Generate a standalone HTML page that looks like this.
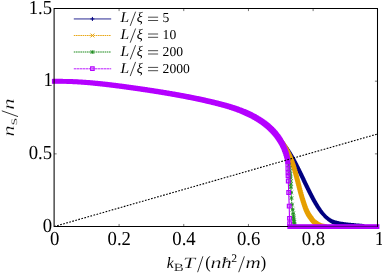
<!DOCTYPE html>
<html><head><meta charset="utf-8"><title>plot</title>
<style>
html,body{margin:0;padding:0;background:#fff;}
body{width:382px;height:273px;overflow:hidden;font-family:"Liberation Serif",serif;}
svg{display:block;will-change:transform;}
text{fill:#000;text-rendering:geometricPrecision;}
.mr{font-family:"Liberation Serif",serif;}
.mi{font-family:"Liberation Serif",serif;font-style:italic;}
</style></head><body>
<svg width="382" height="273" viewBox="0 0 382 273">
<rect width="382" height="273" fill="#fff"/>
<path d="M279.00,138.53 L279.46,139.05 L279.92,139.58 L280.37,140.12 L280.82,140.66 L281.26,141.20 L281.70,141.74 L282.14,142.29 L282.57,142.83 L283.01,143.39 L283.43,143.94 L283.86,144.50 L284.28,145.06 L284.70,145.62 L285.11,146.18 L285.52,146.75 L285.93,147.32 L286.33,147.89 L286.73,148.47 L287.12,149.05 L287.51,149.63 L287.90,150.21 L288.29,150.79 L288.67,151.38 L289.04,151.97 L289.42,152.57 L289.78,153.16 L290.15,153.76 L290.51,154.36 L290.87,154.96 L291.23,155.56 L291.58,156.16 L291.93,156.77 L292.28,157.38 L292.62,157.99 L292.96,158.60 L293.30,159.21 L293.63,159.83 L293.97,160.44 L294.30,161.06 L294.63,161.68 L294.96,162.30 L295.28,162.92 L295.60,163.54 L295.93,164.16 L296.25,164.78 L296.57,165.40 L296.88,166.03 L297.20,166.65 L297.52,167.28 L297.83,167.90 L298.14,168.53 L298.45,169.16 L298.76,169.78 L299.07,170.41 L299.38,171.04 L299.69,171.67 L299.99,172.30 L300.30,172.93 L300.61,173.56 L300.91,174.19 L301.21,174.82 L301.52,175.45 L301.82,176.08 L302.12,176.71 L302.43,177.34 L302.73,177.97 L303.03,178.60 L303.34,179.24 L303.64,179.87 L303.94,180.50 L304.24,181.13 L304.54,181.76 L304.85,182.39 L305.15,183.02 L305.45,183.65 L305.76,184.28 L306.06,184.91 L306.37,185.54 L306.67,186.17 L306.98,186.80 L307.29,187.43 L307.59,188.06 L307.90,188.69 L308.21,189.32 L308.52,189.95 L308.83,190.57 L309.14,191.20 L309.46,191.83 L309.77,192.45 L310.09,193.07 L310.41,193.70 L310.72,194.32 L311.04,194.94 L311.37,195.57 L311.69,196.19 L312.02,196.81 L312.35,197.42 L312.68,198.04 L313.01,198.66 L313.34,199.27 L313.68,199.88 L314.02,200.50 L314.36,201.11 L314.71,201.72 L315.06,202.32 L315.41,202.93 L315.76,203.53 L316.12,204.13 L316.48,204.73 L316.85,205.33 L317.21,205.93 L317.59,206.52 L317.96,207.11 L318.35,207.70 L318.73,208.28 L319.12,208.86 L319.52,209.44 L319.92,210.01 L320.32,210.58 L320.74,211.15 L321.16,211.71 L321.59,212.26 L322.02,212.81 L322.46,213.35 L322.91,213.89 L323.37,214.42 L323.84,214.94 L324.31,215.45 L324.80,215.96 L325.30,216.45 L325.80,216.94 L326.31,217.41 L326.84,217.87 L327.38,218.32 L327.92,218.76 L328.48,219.19 L329.04,219.60 L329.62,219.99 L330.21,220.37 L330.80,220.74 L331.40,221.10 L332.02,221.44 L332.65,221.74 L333.30,221.99 L333.96,222.22 L334.63,222.43 L335.30,222.63 L335.98,222.82 L336.66,222.99 L337.34,223.15 L338.02,223.31 L338.70,223.45 L339.39,223.59 L340.08,223.71 L340.77,223.84 L341.46,223.95 L342.15,224.06 L342.84,224.17 L343.54,224.26 L344.23,224.36 L344.92,224.45 L345.62,224.54 L346.31,224.62 L347.01,224.70 L347.70,224.78 L348.40,224.85 L349.10,224.92 L349.79,224.99 L350.49,225.06 L351.19,225.12 L351.88,225.19 L352.58,225.26 L353.28,225.32 L353.97,225.39 L354.67,225.46 L355.37,225.52 L356.07,225.58 L356.76,225.65 L357.46,225.71 L358.16,225.76 L358.86,225.82 L359.55,225.88 L360.25,225.93 L360.95,225.98 L361.65,226.03 L362.35,226.09 L363.04,226.13 L363.74,226.18" fill="none" stroke="#000080" stroke-width="1"/>
<path d="M276.80,138.53h4.4M279.00,136.33v4.4M277.26,139.05h4.4M279.46,136.85v4.4M277.72,139.58h4.4M279.92,137.38v4.4M278.17,140.12h4.4M280.37,137.92v4.4M278.62,140.66h4.4M280.82,138.46v4.4M279.06,141.20h4.4M281.26,139.00v4.4M279.50,141.74h4.4M281.70,139.54v4.4M279.94,142.29h4.4M282.14,140.09v4.4M280.37,142.83h4.4M282.57,140.63v4.4M280.81,143.39h4.4M283.01,141.19v4.4M281.23,143.94h4.4M283.43,141.74v4.4M281.66,144.50h4.4M283.86,142.30v4.4M282.08,145.06h4.4M284.28,142.86v4.4M282.50,145.62h4.4M284.70,143.42v4.4M282.91,146.18h4.4M285.11,143.98v4.4M283.32,146.75h4.4M285.52,144.55v4.4M283.73,147.32h4.4M285.93,145.12v4.4M284.13,147.89h4.4M286.33,145.69v4.4M284.53,148.47h4.4M286.73,146.27v4.4M284.92,149.05h4.4M287.12,146.85v4.4M285.31,149.63h4.4M287.51,147.43v4.4M285.70,150.21h4.4M287.90,148.01v4.4M286.09,150.79h4.4M288.29,148.59v4.4M286.47,151.38h4.4M288.67,149.18v4.4M286.84,151.97h4.4M289.04,149.77v4.4M287.22,152.57h4.4M289.42,150.37v4.4M287.58,153.16h4.4M289.78,150.96v4.4M287.95,153.76h4.4M290.15,151.56v4.4M288.31,154.36h4.4M290.51,152.16v4.4M288.67,154.96h4.4M290.87,152.76v4.4M289.03,155.56h4.4M291.23,153.36v4.4M289.38,156.16h4.4M291.58,153.96v4.4M289.73,156.77h4.4M291.93,154.57v4.4M290.08,157.38h4.4M292.28,155.18v4.4M290.42,157.99h4.4M292.62,155.79v4.4M290.76,158.60h4.4M292.96,156.40v4.4M291.10,159.21h4.4M293.30,157.01v4.4M291.43,159.83h4.4M293.63,157.63v4.4M291.77,160.44h4.4M293.97,158.24v4.4M292.10,161.06h4.4M294.30,158.86v4.4M292.43,161.68h4.4M294.63,159.48v4.4M292.76,162.30h4.4M294.96,160.10v4.4M293.08,162.92h4.4M295.28,160.72v4.4M293.40,163.54h4.4M295.60,161.34v4.4M293.73,164.16h4.4M295.93,161.96v4.4M294.05,164.78h4.4M296.25,162.58v4.4M294.37,165.40h4.4M296.57,163.20v4.4M294.68,166.03h4.4M296.88,163.83v4.4M295.00,166.65h4.4M297.20,164.45v4.4M295.32,167.28h4.4M297.52,165.08v4.4M295.63,167.90h4.4M297.83,165.70v4.4M295.94,168.53h4.4M298.14,166.33v4.4M296.25,169.16h4.4M298.45,166.96v4.4M296.56,169.78h4.4M298.76,167.58v4.4M296.87,170.41h4.4M299.07,168.21v4.4M297.18,171.04h4.4M299.38,168.84v4.4M297.49,171.67h4.4M299.69,169.47v4.4M297.79,172.30h4.4M299.99,170.10v4.4M298.10,172.93h4.4M300.30,170.73v4.4M298.41,173.56h4.4M300.61,171.36v4.4M298.71,174.19h4.4M300.91,171.99v4.4M299.01,174.82h4.4M301.21,172.62v4.4M299.32,175.45h4.4M301.52,173.25v4.4M299.62,176.08h4.4M301.82,173.88v4.4M299.92,176.71h4.4M302.12,174.51v4.4M300.23,177.34h4.4M302.43,175.14v4.4M300.53,177.97h4.4M302.73,175.77v4.4M300.83,178.60h4.4M303.03,176.40v4.4M301.14,179.24h4.4M303.34,177.04v4.4M301.44,179.87h4.4M303.64,177.67v4.4M301.74,180.50h4.4M303.94,178.30v4.4M302.04,181.13h4.4M304.24,178.93v4.4M302.34,181.76h4.4M304.54,179.56v4.4M302.65,182.39h4.4M304.85,180.19v4.4M302.95,183.02h4.4M305.15,180.82v4.4M303.25,183.65h4.4M305.45,181.45v4.4M303.56,184.28h4.4M305.76,182.08v4.4M303.86,184.91h4.4M306.06,182.71v4.4M304.17,185.54h4.4M306.37,183.34v4.4M304.47,186.17h4.4M306.67,183.97v4.4M304.78,186.80h4.4M306.98,184.60v4.4M305.09,187.43h4.4M307.29,185.23v4.4M305.39,188.06h4.4M307.59,185.86v4.4M305.70,188.69h4.4M307.90,186.49v4.4M306.01,189.32h4.4M308.21,187.12v4.4M306.32,189.95h4.4M308.52,187.75v4.4M306.63,190.57h4.4M308.83,188.37v4.4M306.94,191.20h4.4M309.14,189.00v4.4M307.26,191.83h4.4M309.46,189.63v4.4M307.57,192.45h4.4M309.77,190.25v4.4M307.89,193.07h4.4M310.09,190.87v4.4M308.21,193.70h4.4M310.41,191.50v4.4M308.52,194.32h4.4M310.72,192.12v4.4M308.84,194.94h4.4M311.04,192.74v4.4M309.17,195.57h4.4M311.37,193.37v4.4M309.49,196.19h4.4M311.69,193.99v4.4M309.82,196.81h4.4M312.02,194.61v4.4M310.15,197.42h4.4M312.35,195.22v4.4M310.48,198.04h4.4M312.68,195.84v4.4M310.81,198.66h4.4M313.01,196.46v4.4M311.14,199.27h4.4M313.34,197.07v4.4M311.48,199.88h4.4M313.68,197.68v4.4M311.82,200.50h4.4M314.02,198.30v4.4M312.16,201.11h4.4M314.36,198.91v4.4M312.51,201.72h4.4M314.71,199.52v4.4M312.86,202.32h4.4M315.06,200.12v4.4M313.21,202.93h4.4M315.41,200.73v4.4M313.56,203.53h4.4M315.76,201.33v4.4M313.92,204.13h4.4M316.12,201.93v4.4M314.28,204.73h4.4M316.48,202.53v4.4M314.65,205.33h4.4M316.85,203.13v4.4M315.01,205.93h4.4M317.21,203.73v4.4M315.39,206.52h4.4M317.59,204.32v4.4M315.76,207.11h4.4M317.96,204.91v4.4M316.15,207.70h4.4M318.35,205.50v4.4M316.53,208.28h4.4M318.73,206.08v4.4M316.92,208.86h4.4M319.12,206.66v4.4M317.32,209.44h4.4M319.52,207.24v4.4M317.72,210.01h4.4M319.92,207.81v4.4M318.12,210.58h4.4M320.32,208.38v4.4M318.54,211.15h4.4M320.74,208.95v4.4M318.96,211.71h4.4M321.16,209.51v4.4M319.39,212.26h4.4M321.59,210.06v4.4M319.82,212.81h4.4M322.02,210.61v4.4M320.26,213.35h4.4M322.46,211.15v4.4M320.71,213.89h4.4M322.91,211.69v4.4M321.17,214.42h4.4M323.37,212.22v4.4M321.64,214.94h4.4M323.84,212.74v4.4M322.11,215.45h4.4M324.31,213.25v4.4M322.60,215.96h4.4M324.80,213.76v4.4M323.10,216.45h4.4M325.30,214.25v4.4M323.60,216.94h4.4M325.80,214.74v4.4M324.11,217.41h4.4M326.31,215.21v4.4M324.64,217.87h4.4M326.84,215.67v4.4M325.18,218.32h4.4M327.38,216.12v4.4M325.72,218.76h4.4M327.92,216.56v4.4M326.28,219.19h4.4M328.48,216.99v4.4M326.84,219.60h4.4M329.04,217.40v4.4M327.42,219.99h4.4M329.62,217.79v4.4M328.01,220.37h4.4M330.21,218.17v4.4M328.60,220.74h4.4M330.80,218.54v4.4M329.20,221.10h4.4M331.40,218.90v4.4M329.82,221.44h4.4M332.02,219.24v4.4M330.45,221.74h4.4M332.65,219.54v4.4M331.10,221.99h4.4M333.30,219.79v4.4M331.76,222.22h4.4M333.96,220.02v4.4M332.43,222.43h4.4M334.63,220.23v4.4M333.10,222.63h4.4M335.30,220.43v4.4M333.78,222.82h4.4M335.98,220.62v4.4M334.46,222.99h4.4M336.66,220.79v4.4M335.14,223.15h4.4M337.34,220.95v4.4M335.82,223.31h4.4M338.02,221.11v4.4M336.50,223.45h4.4M338.70,221.25v4.4M337.19,223.59h4.4M339.39,221.39v4.4M337.88,223.71h4.4M340.08,221.51v4.4M338.57,223.84h4.4M340.77,221.64v4.4M339.26,223.95h4.4M341.46,221.75v4.4M339.95,224.06h4.4M342.15,221.86v4.4M340.64,224.17h4.4M342.84,221.97v4.4M341.34,224.26h4.4M343.54,222.06v4.4M342.03,224.36h4.4M344.23,222.16v4.4M342.72,224.45h4.4M344.92,222.25v4.4M343.42,224.54h4.4M345.62,222.34v4.4M344.11,224.62h4.4M346.31,222.42v4.4M344.81,224.70h4.4M347.01,222.50v4.4M345.50,224.78h4.4M347.70,222.58v4.4M346.20,224.85h4.4M348.40,222.65v4.4M346.90,224.92h4.4M349.10,222.72v4.4M347.59,224.99h4.4M349.79,222.79v4.4M348.29,225.06h4.4M350.49,222.86v4.4M348.99,225.12h4.4M351.19,222.92v4.4M349.68,225.19h4.4M351.88,222.99v4.4M350.38,225.26h4.4M352.58,223.06v4.4M351.08,225.32h4.4M353.28,223.12v4.4M351.77,225.39h4.4M353.97,223.19v4.4M352.47,225.46h4.4M354.67,223.26v4.4M353.17,225.52h4.4M355.37,223.32v4.4M353.87,225.58h4.4M356.07,223.38v4.4M354.56,225.65h4.4M356.76,223.45v4.4M355.26,225.71h4.4M357.46,223.51v4.4M355.96,225.76h4.4M358.16,223.56v4.4M356.66,225.82h4.4M358.86,223.62v4.4M357.35,225.88h4.4M359.55,223.68v4.4M358.05,225.93h4.4M360.25,223.73v4.4M358.75,225.98h4.4M360.95,223.78v4.4M359.45,226.03h4.4M361.65,223.83v4.4M360.15,226.09h4.4M362.35,223.89v4.4M360.84,226.13h4.4M363.04,223.93v4.4M361.54,226.18h4.4M363.74,223.98v4.4" fill="none" stroke="#000080" stroke-width="1.25"/>
<path d="M278.08,138.05l3.9,3.9M278.08,141.95l3.9,-3.9M278.50,138.61l3.9,3.9M278.50,142.51l3.9,-3.9M278.92,139.17l3.9,3.9M278.92,143.07l3.9,-3.9M279.33,139.73l3.9,3.9M279.33,143.63l3.9,-3.9M279.74,140.30l3.9,3.9M279.74,144.20l3.9,-3.9M280.15,140.88l3.9,3.9M280.15,144.78l3.9,-3.9M280.54,141.45l3.9,3.9M280.54,145.35l3.9,-3.9M280.94,142.03l3.9,3.9M280.94,145.93l3.9,-3.9M281.33,142.61l3.9,3.9M281.33,146.51l3.9,-3.9M281.71,143.20l3.9,3.9M281.71,147.10l3.9,-3.9M282.09,143.79l3.9,3.9M282.09,147.69l3.9,-3.9M282.46,144.38l3.9,3.9M282.46,148.28l3.9,-3.9M282.83,144.98l3.9,3.9M282.83,148.88l3.9,-3.9M283.19,145.58l3.9,3.9M283.19,149.48l3.9,-3.9M283.55,146.18l3.9,3.9M283.55,150.08l3.9,-3.9M283.90,146.78l3.9,3.9M283.90,150.68l3.9,-3.9M284.24,147.39l3.9,3.9M284.24,151.29l3.9,-3.9M284.58,148.00l3.9,3.9M284.58,151.90l3.9,-3.9M284.92,148.62l3.9,3.9M284.92,152.52l3.9,-3.9M285.25,149.23l3.9,3.9M285.25,153.13l3.9,-3.9M285.58,149.85l3.9,3.9M285.58,153.75l3.9,-3.9M285.90,150.48l3.9,3.9M285.90,154.38l3.9,-3.9M286.21,151.10l3.9,3.9M286.21,155.00l3.9,-3.9M286.52,151.73l3.9,3.9M286.52,155.63l3.9,-3.9M286.82,152.36l3.9,3.9M286.82,156.26l3.9,-3.9M287.12,152.99l3.9,3.9M287.12,156.89l3.9,-3.9M287.42,153.63l3.9,3.9M287.42,157.53l3.9,-3.9M287.70,154.27l3.9,3.9M287.70,158.17l3.9,-3.9M287.99,154.91l3.9,3.9M287.99,158.81l3.9,-3.9M288.27,155.55l3.9,3.9M288.27,159.45l3.9,-3.9M288.54,156.19l3.9,3.9M288.54,160.09l3.9,-3.9M288.81,156.84l3.9,3.9M288.81,160.74l3.9,-3.9M289.07,157.49l3.9,3.9M289.07,161.39l3.9,-3.9M289.33,158.14l3.9,3.9M289.33,162.04l3.9,-3.9M289.59,158.79l3.9,3.9M289.59,162.69l3.9,-3.9M289.84,159.44l3.9,3.9M289.84,163.34l3.9,-3.9M290.08,160.10l3.9,3.9M290.08,164.00l3.9,-3.9M290.32,160.76l3.9,3.9M290.32,164.66l3.9,-3.9M290.56,161.42l3.9,3.9M290.56,165.32l3.9,-3.9M290.79,162.08l3.9,3.9M290.79,165.98l3.9,-3.9M291.02,162.74l3.9,3.9M291.02,166.64l3.9,-3.9M291.25,163.40l3.9,3.9M291.25,167.30l3.9,-3.9M291.47,164.06l3.9,3.9M291.47,167.96l3.9,-3.9M291.69,164.73l3.9,3.9M291.69,168.63l3.9,-3.9M291.90,165.40l3.9,3.9M291.90,169.30l3.9,-3.9M292.11,166.06l3.9,3.9M292.11,169.96l3.9,-3.9M292.32,166.73l3.9,3.9M292.32,170.63l3.9,-3.9M292.52,167.40l3.9,3.9M292.52,171.30l3.9,-3.9M292.72,168.07l3.9,3.9M292.72,171.97l3.9,-3.9M292.92,168.74l3.9,3.9M292.92,172.64l3.9,-3.9M293.12,169.42l3.9,3.9M293.12,173.32l3.9,-3.9M293.31,170.09l3.9,3.9M293.31,173.99l3.9,-3.9M293.50,170.76l3.9,3.9M293.50,174.66l3.9,-3.9M293.69,171.44l3.9,3.9M293.69,175.34l3.9,-3.9M293.87,172.11l3.9,3.9M293.87,176.01l3.9,-3.9M294.06,172.79l3.9,3.9M294.06,176.69l3.9,-3.9M294.24,173.46l3.9,3.9M294.24,177.36l3.9,-3.9M294.42,174.14l3.9,3.9M294.42,178.04l3.9,-3.9M294.60,174.82l3.9,3.9M294.60,178.72l3.9,-3.9M294.78,175.49l3.9,3.9M294.78,179.39l3.9,-3.9M294.95,176.17l3.9,3.9M294.95,180.07l3.9,-3.9M295.13,176.85l3.9,3.9M295.13,180.75l3.9,-3.9M295.31,177.53l3.9,3.9M295.31,181.43l3.9,-3.9M295.48,178.20l3.9,3.9M295.48,182.10l3.9,-3.9M295.65,178.88l3.9,3.9M295.65,182.78l3.9,-3.9M295.83,179.56l3.9,3.9M295.83,183.46l3.9,-3.9M296.00,180.24l3.9,3.9M296.00,184.14l3.9,-3.9M296.17,180.92l3.9,3.9M296.17,184.82l3.9,-3.9M296.34,181.59l3.9,3.9M296.34,185.49l3.9,-3.9M296.52,182.27l3.9,3.9M296.52,186.17l3.9,-3.9M296.69,182.95l3.9,3.9M296.69,186.85l3.9,-3.9M296.86,183.63l3.9,3.9M296.86,187.53l3.9,-3.9M297.04,184.31l3.9,3.9M297.04,188.21l3.9,-3.9M297.21,184.99l3.9,3.9M297.21,188.89l3.9,-3.9M297.38,185.66l3.9,3.9M297.38,189.56l3.9,-3.9M297.56,186.34l3.9,3.9M297.56,190.24l3.9,-3.9M297.74,187.02l3.9,3.9M297.74,190.92l3.9,-3.9M297.91,187.70l3.9,3.9M297.91,191.60l3.9,-3.9M298.09,188.37l3.9,3.9M298.09,192.27l3.9,-3.9M298.27,189.05l3.9,3.9M298.27,192.95l3.9,-3.9M298.45,189.73l3.9,3.9M298.45,193.63l3.9,-3.9M298.63,190.40l3.9,3.9M298.63,194.30l3.9,-3.9M298.81,191.08l3.9,3.9M298.81,194.98l3.9,-3.9M299.00,191.75l3.9,3.9M299.00,195.65l3.9,-3.9M299.18,192.43l3.9,3.9M299.18,196.33l3.9,-3.9M299.37,193.10l3.9,3.9M299.37,197.00l3.9,-3.9M299.56,193.78l3.9,3.9M299.56,197.68l3.9,-3.9M299.75,194.45l3.9,3.9M299.75,198.35l3.9,-3.9M299.95,195.12l3.9,3.9M299.95,199.02l3.9,-3.9M300.14,195.80l3.9,3.9M300.14,199.70l3.9,-3.9M300.34,196.47l3.9,3.9M300.34,200.37l3.9,-3.9M300.54,197.14l3.9,3.9M300.54,201.04l3.9,-3.9M300.74,197.81l3.9,3.9M300.74,201.71l3.9,-3.9M300.95,198.48l3.9,3.9M300.95,202.38l3.9,-3.9M301.15,199.15l3.9,3.9M301.15,203.05l3.9,-3.9M301.36,199.81l3.9,3.9M301.36,203.71l3.9,-3.9M301.58,200.48l3.9,3.9M301.58,204.38l3.9,-3.9M301.79,201.15l3.9,3.9M301.79,205.05l3.9,-3.9M302.01,201.81l3.9,3.9M302.01,205.71l3.9,-3.9M302.23,202.48l3.9,3.9M302.23,206.38l3.9,-3.9M302.46,203.14l3.9,3.9M302.46,207.04l3.9,-3.9M302.68,203.80l3.9,3.9M302.68,207.70l3.9,-3.9M302.92,204.46l3.9,3.9M302.92,208.36l3.9,-3.9M303.15,205.12l3.9,3.9M303.15,209.02l3.9,-3.9M303.39,205.78l3.9,3.9M303.39,209.68l3.9,-3.9M303.64,206.43l3.9,3.9M303.64,210.33l3.9,-3.9M303.89,207.08l3.9,3.9M303.89,210.98l3.9,-3.9M304.16,207.73l3.9,3.9M304.16,211.63l3.9,-3.9M304.43,208.38l3.9,3.9M304.43,212.28l3.9,-3.9M304.71,209.02l3.9,3.9M304.71,212.92l3.9,-3.9M305.01,209.65l3.9,3.9M305.01,213.55l3.9,-3.9M305.32,210.28l3.9,3.9M305.32,214.18l3.9,-3.9M305.64,210.90l3.9,3.9M305.64,214.80l3.9,-3.9M305.97,211.52l3.9,3.9M305.97,215.42l3.9,-3.9M306.31,212.13l3.9,3.9M306.31,216.03l3.9,-3.9M306.67,212.73l3.9,3.9M306.67,216.63l3.9,-3.9M307.05,213.32l3.9,3.9M307.05,217.22l3.9,-3.9M307.43,213.90l3.9,3.9M307.43,217.80l3.9,-3.9M307.84,214.48l3.9,3.9M307.84,218.38l3.9,-3.9M308.25,215.04l3.9,3.9M308.25,218.94l3.9,-3.9M308.68,215.60l3.9,3.9M308.68,219.50l3.9,-3.9M309.04,216.05l3.9,3.9M309.04,219.95l3.9,-3.9M309.42,216.64l3.9,3.9M309.42,220.54l3.9,-3.9M309.81,217.22l3.9,3.9M309.81,221.12l3.9,-3.9M310.22,217.79l3.9,3.9M310.22,221.69l3.9,-3.9M310.64,218.34l3.9,3.9M310.64,222.24l3.9,-3.9M311.10,218.87l3.9,3.9M311.10,222.77l3.9,-3.9M311.58,219.38l3.9,3.9M311.58,223.28l3.9,-3.9M312.09,219.86l3.9,3.9M312.09,223.76l3.9,-3.9M312.63,220.31l3.9,3.9M312.63,224.21l3.9,-3.9M313.18,220.74l3.9,3.9M313.18,224.64l3.9,-3.9M313.75,221.15l3.9,3.9M313.75,225.05l3.9,-3.9M314.33,221.54l3.9,3.9M314.33,225.44l3.9,-3.9M314.92,221.91l3.9,3.9M314.92,225.81l3.9,-3.9M315.52,222.28l3.9,3.9M315.52,226.18l3.9,-3.9M316.13,222.61l3.9,3.9M316.13,226.51l3.9,-3.9M316.76,222.92l3.9,3.9M316.76,226.82l3.9,-3.9M317.40,223.20l3.9,3.9M317.40,227.10l3.9,-3.9M318.05,223.46l3.9,3.9M318.05,227.36l3.9,-3.9M318.71,223.69l3.9,3.9M318.71,227.59l3.9,-3.9M319.38,223.90l3.9,3.9M319.38,227.80l3.9,-3.9M320.06,224.05l3.9,3.9M320.06,227.95l3.9,-3.9M320.75,224.18l3.9,3.9M320.75,228.08l3.9,-3.9M321.44,224.29l3.9,3.9M321.44,228.19l3.9,-3.9M322.14,224.38l3.9,3.9M322.14,228.28l3.9,-3.9M322.84,224.44l3.9,3.9M322.84,228.34l3.9,-3.9" fill="none" stroke="#E69F00" stroke-width="1.25"/>
<path d="M282.24,146.00 L282.71,147.00 L283.17,148.00 L283.62,149.00 L284.05,150.00 L284.48,151.00 L284.90,152.00 L285.31,153.00 L285.72,154.00 L286.12,155.00 L286.50,156.00 L286.86,157.00 L287.20,158.00 L287.51,159.00 L287.81,160.00 L288.09,161.00 L288.36,162.00 L288.60,163.00 L288.83,164.00 L289.05,165.00 L289.26,166.00 L289.45,167.00 L289.60,168.00 L289.73,169.00 L289.86,170.00 L289.98,171.00 L290.09,172.00 L290.19,173.00 L290.28,174.00 L290.37,175.00 L290.44,176.00 L290.50,177.00 L290.55,178.00 L290.60,179.00 L290.64,180.00 L290.67,181.00 L290.71,182.00 L290.74,183.00 L290.77,184.00 L290.81,185.00 L290.84,186.00 L290.89,187.00 L290.93,188.00 L290.98,189.00 L291.03,190.00 L291.07,191.00 L291.12,192.00 L291.17,193.00 L291.22,194.00 L291.28,195.00 L291.33,196.00 L291.39,197.00 L291.45,198.00 L291.52,199.00 L291.59,200.00 L291.66,201.00 L291.73,202.00 L291.81,203.00 L291.90,204.00 L292.00,205.00 L292.12,206.00 L292.26,207.00 L292.42,208.00 L292.57,209.00 L292.72,210.00 L292.87,211.00 L293.00,212.00 L293.12,213.00 L293.23,214.00 L293.35,215.00 L293.45,216.00 L293.56,217.00 L293.66,218.00 L293.77,219.00 L293.87,220.00 L293.97,221.00 L294.08,222.00 L294.19,223.00 L294.30,224.00 L294.42,225.00 L294.53,226.00" fill="none" stroke="#1E8C1E" stroke-width="1" stroke-dasharray="1.6 0.6"/>
<path d="M282.25,150.00h3.6M284.05,148.20v3.6M283.10,152.00h3.6M284.90,150.20v3.6M283.92,154.00h3.6M285.72,152.20v3.6M284.70,156.00h3.6M286.50,154.20v3.6M285.40,158.00h3.6M287.20,156.20v3.6M286.01,160.00h3.6M287.81,158.20v3.6M286.68,162.50h3.6M288.48,160.70v3.6M287.25,165.00h3.6M289.05,163.20v3.6M287.80,168.00h3.6M289.60,166.20v3.6M288.20,171.20h3.6M290.00,169.40v3.6M288.52,174.40h3.6M290.32,172.60v3.6M288.73,177.60h3.6M290.53,175.80v3.6M288.87,181.00h3.6M290.67,179.20v3.6M288.98,184.20h3.6M290.78,182.40v3.6M289.10,187.30h3.6M290.90,185.50v3.6M289.35,192.50h3.6M291.15,190.70v3.6M289.66,198.10h3.6M291.46,196.30v3.6M290.16,204.60h3.6M291.96,202.80v3.6M290.86,209.60h3.6M292.66,207.80v3.6M291.38,213.50h3.6M293.18,211.70v3.6M291.68,216.30h3.6M293.48,214.50v3.6M291.92,218.60h3.6M293.72,216.80v3.6M292.13,220.60h3.6M293.93,218.80v3.6M292.32,222.40h3.6M294.12,220.60v3.6M292.50,224.00h3.6M294.30,222.20v3.6M292.66,225.40h3.6M294.46,223.60v3.6M292.80,226.55h3.6M294.60,224.75v3.6M282.25,148.20l3.6,3.6M282.25,151.80l3.6,-3.6M283.10,150.20l3.6,3.6M283.10,153.80l3.6,-3.6M283.92,152.20l3.6,3.6M283.92,155.80l3.6,-3.6M284.70,154.20l3.6,3.6M284.70,157.80l3.6,-3.6M285.40,156.20l3.6,3.6M285.40,159.80l3.6,-3.6M286.01,158.20l3.6,3.6M286.01,161.80l3.6,-3.6M286.68,160.70l3.6,3.6M286.68,164.30l3.6,-3.6M287.25,163.20l3.6,3.6M287.25,166.80l3.6,-3.6M287.80,166.20l3.6,3.6M287.80,169.80l3.6,-3.6M288.20,169.40l3.6,3.6M288.20,173.00l3.6,-3.6M288.52,172.60l3.6,3.6M288.52,176.20l3.6,-3.6M288.73,175.80l3.6,3.6M288.73,179.40l3.6,-3.6M288.87,179.20l3.6,3.6M288.87,182.80l3.6,-3.6M288.98,182.40l3.6,3.6M288.98,186.00l3.6,-3.6M289.10,185.50l3.6,3.6M289.10,189.10l3.6,-3.6M289.35,190.70l3.6,3.6M289.35,194.30l3.6,-3.6M289.66,196.30l3.6,3.6M289.66,199.90l3.6,-3.6M290.16,202.80l3.6,3.6M290.16,206.40l3.6,-3.6M290.86,207.80l3.6,3.6M290.86,211.40l3.6,-3.6M291.38,211.70l3.6,3.6M291.38,215.30l3.6,-3.6M291.68,214.50l3.6,3.6M291.68,218.10l3.6,-3.6M291.92,216.80l3.6,3.6M291.92,220.40l3.6,-3.6M292.13,218.80l3.6,3.6M292.13,222.40l3.6,-3.6M292.32,220.60l3.6,3.6M292.32,224.20l3.6,-3.6M292.50,222.20l3.6,3.6M292.50,225.80l3.6,-3.6M292.66,223.60l3.6,3.6M292.66,227.20l3.6,-3.6M292.80,224.75l3.6,3.6M292.80,228.35l3.6,-3.6" fill="none" stroke="#1E8C1E" stroke-width="0.9"/>
<path d="M287.80,162.00 L287.90,170.00 L288.50,187.00 L289.20,206.00 L289.70,226.55" fill="none" stroke="#B400FF" stroke-width="1.1"/>
<path d="M52.49,79.45h3.7v3.7h-3.7zM53.10,79.44h3.7v3.7h-3.7zM53.71,79.44h3.7v3.7h-3.7zM54.32,79.43h3.7v3.7h-3.7zM54.93,79.43h3.7v3.7h-3.7zM55.54,79.43h3.7v3.7h-3.7zM56.15,79.43h3.7v3.7h-3.7zM56.76,79.43h3.7v3.7h-3.7zM57.36,79.43h3.7v3.7h-3.7zM57.97,79.44h3.7v3.7h-3.7zM58.58,79.44h3.7v3.7h-3.7zM59.19,79.45h3.7v3.7h-3.7zM59.79,79.45h3.7v3.7h-3.7zM60.40,79.46h3.7v3.7h-3.7zM61.01,79.47h3.7v3.7h-3.7zM61.61,79.48h3.7v3.7h-3.7zM62.22,79.49h3.7v3.7h-3.7zM62.82,79.50h3.7v3.7h-3.7zM63.43,79.52h3.7v3.7h-3.7zM64.03,79.53h3.7v3.7h-3.7zM64.63,79.55h3.7v3.7h-3.7zM65.24,79.56h3.7v3.7h-3.7zM65.84,79.58h3.7v3.7h-3.7zM66.44,79.60h3.7v3.7h-3.7zM67.05,79.62h3.7v3.7h-3.7zM67.65,79.64h3.7v3.7h-3.7zM68.25,79.66h3.7v3.7h-3.7zM68.85,79.68h3.7v3.7h-3.7zM69.45,79.71h3.7v3.7h-3.7zM70.05,79.73h3.7v3.7h-3.7zM70.66,79.76h3.7v3.7h-3.7zM71.26,79.78h3.7v3.7h-3.7zM71.86,79.81h3.7v3.7h-3.7zM72.46,79.84h3.7v3.7h-3.7zM73.06,79.87h3.7v3.7h-3.7zM73.66,79.90h3.7v3.7h-3.7zM74.25,79.93h3.7v3.7h-3.7zM74.85,79.96h3.7v3.7h-3.7zM75.45,80.00h3.7v3.7h-3.7zM76.05,80.03h3.7v3.7h-3.7zM76.65,80.07h3.7v3.7h-3.7zM77.25,80.10h3.7v3.7h-3.7zM77.85,80.14h3.7v3.7h-3.7zM78.44,80.18h3.7v3.7h-3.7zM79.04,80.21h3.7v3.7h-3.7zM79.64,80.25h3.7v3.7h-3.7zM80.23,80.29h3.7v3.7h-3.7zM80.83,80.33h3.7v3.7h-3.7zM81.43,80.38h3.7v3.7h-3.7zM82.02,80.42h3.7v3.7h-3.7zM82.62,80.46h3.7v3.7h-3.7zM83.22,80.51h3.7v3.7h-3.7zM83.81,80.55h3.7v3.7h-3.7zM84.41,80.60h3.7v3.7h-3.7zM85.00,80.65h3.7v3.7h-3.7zM85.60,80.69h3.7v3.7h-3.7zM86.19,80.74h3.7v3.7h-3.7zM86.79,80.79h3.7v3.7h-3.7zM87.38,80.84h3.7v3.7h-3.7zM87.98,80.89h3.7v3.7h-3.7zM88.57,80.94h3.7v3.7h-3.7zM89.17,80.99h3.7v3.7h-3.7zM89.76,81.05h3.7v3.7h-3.7zM90.35,81.10h3.7v3.7h-3.7zM90.95,81.15h3.7v3.7h-3.7zM91.54,81.21h3.7v3.7h-3.7zM92.13,81.26h3.7v3.7h-3.7zM92.73,81.32h3.7v3.7h-3.7zM93.32,81.38h3.7v3.7h-3.7zM93.91,81.44h3.7v3.7h-3.7zM94.51,81.49h3.7v3.7h-3.7zM95.10,81.55h3.7v3.7h-3.7zM95.69,81.61h3.7v3.7h-3.7zM96.29,81.67h3.7v3.7h-3.7zM96.88,81.73h3.7v3.7h-3.7zM97.47,81.79h3.7v3.7h-3.7zM98.07,81.86h3.7v3.7h-3.7zM98.66,81.92h3.7v3.7h-3.7zM99.25,81.98h3.7v3.7h-3.7zM99.84,82.05h3.7v3.7h-3.7zM100.43,82.11h3.7v3.7h-3.7zM101.03,82.18h3.7v3.7h-3.7zM101.62,82.24h3.7v3.7h-3.7zM102.21,82.31h3.7v3.7h-3.7zM102.80,82.37h3.7v3.7h-3.7zM103.40,82.44h3.7v3.7h-3.7zM103.99,82.51h3.7v3.7h-3.7zM104.58,82.58h3.7v3.7h-3.7zM105.17,82.65h3.7v3.7h-3.7zM105.76,82.72h3.7v3.7h-3.7zM106.36,82.78h3.7v3.7h-3.7zM106.95,82.86h3.7v3.7h-3.7zM107.54,82.93h3.7v3.7h-3.7zM108.13,83.00h3.7v3.7h-3.7zM108.72,83.07h3.7v3.7h-3.7zM109.32,83.14h3.7v3.7h-3.7zM109.91,83.21h3.7v3.7h-3.7zM110.50,83.29h3.7v3.7h-3.7zM111.09,83.36h3.7v3.7h-3.7zM111.68,83.43h3.7v3.7h-3.7zM112.28,83.51h3.7v3.7h-3.7zM112.87,83.58h3.7v3.7h-3.7zM113.46,83.66h3.7v3.7h-3.7zM114.05,83.73h3.7v3.7h-3.7zM114.64,83.81h3.7v3.7h-3.7zM115.24,83.89h3.7v3.7h-3.7zM115.83,83.96h3.7v3.7h-3.7zM116.42,84.04h3.7v3.7h-3.7zM117.01,84.12h3.7v3.7h-3.7zM117.61,84.19h3.7v3.7h-3.7zM118.20,84.27h3.7v3.7h-3.7zM118.79,84.35h3.7v3.7h-3.7zM119.39,84.43h3.7v3.7h-3.7zM119.98,84.51h3.7v3.7h-3.7zM120.57,84.59h3.7v3.7h-3.7zM121.16,84.67h3.7v3.7h-3.7zM121.76,84.75h3.7v3.7h-3.7zM122.35,84.83h3.7v3.7h-3.7zM122.94,84.91h3.7v3.7h-3.7zM123.54,84.99h3.7v3.7h-3.7zM124.13,85.07h3.7v3.7h-3.7zM124.72,85.15h3.7v3.7h-3.7zM125.32,85.23h3.7v3.7h-3.7zM125.91,85.32h3.7v3.7h-3.7zM126.51,85.40h3.7v3.7h-3.7zM127.10,85.48h3.7v3.7h-3.7zM127.69,85.56h3.7v3.7h-3.7zM128.29,85.64h3.7v3.7h-3.7zM128.88,85.73h3.7v3.7h-3.7zM129.48,85.81h3.7v3.7h-3.7zM130.07,85.89h3.7v3.7h-3.7zM130.67,85.98h3.7v3.7h-3.7zM131.26,86.06h3.7v3.7h-3.7zM131.86,86.14h3.7v3.7h-3.7zM132.46,86.23h3.7v3.7h-3.7zM133.05,86.31h3.7v3.7h-3.7zM133.65,86.40h3.7v3.7h-3.7zM134.24,86.48h3.7v3.7h-3.7zM134.84,86.57h3.7v3.7h-3.7zM135.43,86.65h3.7v3.7h-3.7zM136.03,86.74h3.7v3.7h-3.7zM136.63,86.82h3.7v3.7h-3.7zM137.22,86.91h3.7v3.7h-3.7zM137.82,87.00h3.7v3.7h-3.7zM138.42,87.08h3.7v3.7h-3.7zM139.01,87.17h3.7v3.7h-3.7zM139.61,87.26h3.7v3.7h-3.7zM140.21,87.34h3.7v3.7h-3.7zM140.80,87.43h3.7v3.7h-3.7zM141.40,87.52h3.7v3.7h-3.7zM142.00,87.61h3.7v3.7h-3.7zM142.59,87.69h3.7v3.7h-3.7zM143.19,87.78h3.7v3.7h-3.7zM143.79,87.87h3.7v3.7h-3.7zM144.39,87.96h3.7v3.7h-3.7zM144.98,88.05h3.7v3.7h-3.7zM145.58,88.14h3.7v3.7h-3.7zM146.18,88.23h3.7v3.7h-3.7zM146.78,88.32h3.7v3.7h-3.7zM147.37,88.41h3.7v3.7h-3.7zM147.97,88.50h3.7v3.7h-3.7zM148.57,88.59h3.7v3.7h-3.7zM149.17,88.68h3.7v3.7h-3.7zM149.76,88.77h3.7v3.7h-3.7zM150.36,88.87h3.7v3.7h-3.7zM150.96,88.96h3.7v3.7h-3.7zM151.56,89.05h3.7v3.7h-3.7zM152.15,89.14h3.7v3.7h-3.7zM152.75,89.24h3.7v3.7h-3.7zM153.35,89.33h3.7v3.7h-3.7zM153.95,89.42h3.7v3.7h-3.7zM154.54,89.52h3.7v3.7h-3.7zM155.14,89.61h3.7v3.7h-3.7zM155.74,89.71h3.7v3.7h-3.7zM156.34,89.80h3.7v3.7h-3.7zM156.93,89.90h3.7v3.7h-3.7zM157.53,89.99h3.7v3.7h-3.7zM158.13,90.09h3.7v3.7h-3.7zM158.72,90.19h3.7v3.7h-3.7zM159.32,90.28h3.7v3.7h-3.7zM159.92,90.38h3.7v3.7h-3.7zM160.52,90.48h3.7v3.7h-3.7zM161.11,90.58h3.7v3.7h-3.7zM161.71,90.67h3.7v3.7h-3.7zM162.31,90.77h3.7v3.7h-3.7zM162.90,90.87h3.7v3.7h-3.7zM163.50,90.97h3.7v3.7h-3.7zM164.10,91.07h3.7v3.7h-3.7zM164.69,91.17h3.7v3.7h-3.7zM165.29,91.27h3.7v3.7h-3.7zM165.89,91.37h3.7v3.7h-3.7zM166.48,91.47h3.7v3.7h-3.7zM167.08,91.57h3.7v3.7h-3.7zM167.68,91.67h3.7v3.7h-3.7zM168.27,91.78h3.7v3.7h-3.7zM168.87,91.88h3.7v3.7h-3.7zM169.47,91.98h3.7v3.7h-3.7zM170.06,92.09h3.7v3.7h-3.7zM170.66,92.19h3.7v3.7h-3.7zM171.25,92.29h3.7v3.7h-3.7zM171.85,92.40h3.7v3.7h-3.7zM172.44,92.50h3.7v3.7h-3.7zM173.04,92.61h3.7v3.7h-3.7zM173.63,92.71h3.7v3.7h-3.7zM174.23,92.82h3.7v3.7h-3.7zM174.82,92.93h3.7v3.7h-3.7zM175.42,93.03h3.7v3.7h-3.7zM176.01,93.14h3.7v3.7h-3.7zM176.61,93.25h3.7v3.7h-3.7zM177.20,93.36h3.7v3.7h-3.7zM177.79,93.47h3.7v3.7h-3.7zM178.39,93.57h3.7v3.7h-3.7zM178.98,93.68h3.7v3.7h-3.7zM179.58,93.79h3.7v3.7h-3.7zM180.17,93.90h3.7v3.7h-3.7zM180.76,94.02h3.7v3.7h-3.7zM181.35,94.13h3.7v3.7h-3.7zM181.95,94.24h3.7v3.7h-3.7zM182.54,94.35h3.7v3.7h-3.7zM183.13,94.46h3.7v3.7h-3.7zM183.72,94.58h3.7v3.7h-3.7zM184.32,94.69h3.7v3.7h-3.7zM184.91,94.80h3.7v3.7h-3.7zM185.50,94.92h3.7v3.7h-3.7zM186.09,95.03h3.7v3.7h-3.7zM186.68,95.15h3.7v3.7h-3.7zM187.27,95.26h3.7v3.7h-3.7zM187.86,95.38h3.7v3.7h-3.7zM188.45,95.50h3.7v3.7h-3.7zM189.04,95.62h3.7v3.7h-3.7zM189.63,95.73h3.7v3.7h-3.7zM190.22,95.85h3.7v3.7h-3.7zM190.81,95.97h3.7v3.7h-3.7zM191.40,96.09h3.7v3.7h-3.7zM191.99,96.21h3.7v3.7h-3.7zM192.58,96.33h3.7v3.7h-3.7zM193.17,96.45h3.7v3.7h-3.7zM193.76,96.57h3.7v3.7h-3.7zM194.35,96.69h3.7v3.7h-3.7zM194.93,96.82h3.7v3.7h-3.7zM195.52,96.94h3.7v3.7h-3.7zM196.11,97.06h3.7v3.7h-3.7zM196.69,97.18h3.7v3.7h-3.7zM197.28,97.31h3.7v3.7h-3.7zM197.87,97.43h3.7v3.7h-3.7zM198.45,97.56h3.7v3.7h-3.7zM199.04,97.69h3.7v3.7h-3.7zM199.62,97.81h3.7v3.7h-3.7zM200.21,97.94h3.7v3.7h-3.7zM200.79,98.07h3.7v3.7h-3.7zM201.38,98.19h3.7v3.7h-3.7zM201.96,98.32h3.7v3.7h-3.7zM202.55,98.45h3.7v3.7h-3.7zM203.13,98.58h3.7v3.7h-3.7zM203.71,98.71h3.7v3.7h-3.7zM204.30,98.84h3.7v3.7h-3.7zM204.88,98.97h3.7v3.7h-3.7zM205.46,99.11h3.7v3.7h-3.7zM206.04,99.24h3.7v3.7h-3.7zM206.62,99.37h3.7v3.7h-3.7zM207.20,99.51h3.7v3.7h-3.7zM207.78,99.64h3.7v3.7h-3.7zM208.37,99.78h3.7v3.7h-3.7zM208.95,99.92h3.7v3.7h-3.7zM209.52,100.05h3.7v3.7h-3.7zM210.10,100.19h3.7v3.7h-3.7zM210.68,100.33h3.7v3.7h-3.7zM211.26,100.47h3.7v3.7h-3.7zM211.84,100.61h3.7v3.7h-3.7zM212.42,100.75h3.7v3.7h-3.7zM212.99,100.89h3.7v3.7h-3.7zM213.57,101.04h3.7v3.7h-3.7zM214.15,101.18h3.7v3.7h-3.7zM214.72,101.32h3.7v3.7h-3.7zM215.30,101.47h3.7v3.7h-3.7zM215.88,101.61h3.7v3.7h-3.7zM216.45,101.76h3.7v3.7h-3.7zM217.02,101.91h3.7v3.7h-3.7zM217.60,102.06h3.7v3.7h-3.7zM218.17,102.21h3.7v3.7h-3.7zM218.75,102.36h3.7v3.7h-3.7zM219.32,102.51h3.7v3.7h-3.7zM219.89,102.66h3.7v3.7h-3.7zM220.46,102.82h3.7v3.7h-3.7zM221.03,102.97h3.7v3.7h-3.7zM221.61,103.13h3.7v3.7h-3.7zM222.18,103.28h3.7v3.7h-3.7zM222.75,103.44h3.7v3.7h-3.7zM223.32,103.60h3.7v3.7h-3.7zM223.88,103.76h3.7v3.7h-3.7zM224.45,103.92h3.7v3.7h-3.7zM225.02,104.09h3.7v3.7h-3.7zM225.59,104.25h3.7v3.7h-3.7zM226.16,104.42h3.7v3.7h-3.7zM226.72,104.59h3.7v3.7h-3.7zM227.29,104.76h3.7v3.7h-3.7zM227.86,104.93h3.7v3.7h-3.7zM228.42,105.10h3.7v3.7h-3.7zM228.99,105.28h3.7v3.7h-3.7zM229.55,105.45h3.7v3.7h-3.7zM230.11,105.63h3.7v3.7h-3.7zM230.68,105.81h3.7v3.7h-3.7zM231.24,106.00h3.7v3.7h-3.7zM231.80,106.18h3.7v3.7h-3.7zM232.37,106.37h3.7v3.7h-3.7zM232.93,106.56h3.7v3.7h-3.7zM233.49,106.75h3.7v3.7h-3.7zM234.05,106.94h3.7v3.7h-3.7zM234.61,107.14h3.7v3.7h-3.7zM235.17,107.34h3.7v3.7h-3.7zM235.73,107.54h3.7v3.7h-3.7zM236.28,107.74h3.7v3.7h-3.7zM236.84,107.95h3.7v3.7h-3.7zM237.40,108.15h3.7v3.7h-3.7zM237.95,108.36h3.7v3.7h-3.7zM238.51,108.58h3.7v3.7h-3.7zM239.07,108.79h3.7v3.7h-3.7zM239.62,109.01h3.7v3.7h-3.7zM240.17,109.23h3.7v3.7h-3.7zM240.73,109.46h3.7v3.7h-3.7zM241.28,109.68h3.7v3.7h-3.7zM241.83,109.91h3.7v3.7h-3.7zM242.39,110.15h3.7v3.7h-3.7zM242.94,110.38h3.7v3.7h-3.7zM243.49,110.62h3.7v3.7h-3.7zM244.04,110.86h3.7v3.7h-3.7zM244.59,111.11h3.7v3.7h-3.7zM245.14,111.36h3.7v3.7h-3.7zM245.68,111.61h3.7v3.7h-3.7zM246.23,111.86h3.7v3.7h-3.7zM246.78,112.12h3.7v3.7h-3.7zM247.32,112.38h3.7v3.7h-3.7zM247.87,112.65h3.7v3.7h-3.7zM248.41,112.91h3.7v3.7h-3.7zM248.95,113.19h3.7v3.7h-3.7zM249.49,113.46h3.7v3.7h-3.7zM250.03,113.74h3.7v3.7h-3.7zM250.57,114.02h3.7v3.7h-3.7zM251.11,114.30h3.7v3.7h-3.7zM251.65,114.59h3.7v3.7h-3.7zM252.18,114.88h3.7v3.7h-3.7zM252.71,115.18h3.7v3.7h-3.7zM253.24,115.47h3.7v3.7h-3.7zM253.77,115.78h3.7v3.7h-3.7zM254.30,116.08h3.7v3.7h-3.7zM254.82,116.39h3.7v3.7h-3.7zM255.34,116.70h3.7v3.7h-3.7zM255.86,117.01h3.7v3.7h-3.7zM256.38,117.33h3.7v3.7h-3.7zM256.90,117.65h3.7v3.7h-3.7zM257.41,117.98h3.7v3.7h-3.7zM257.92,118.31h3.7v3.7h-3.7zM258.43,118.64h3.7v3.7h-3.7zM258.94,118.98h3.7v3.7h-3.7zM259.44,119.32h3.7v3.7h-3.7zM259.94,119.66h3.7v3.7h-3.7zM260.44,120.00h3.7v3.7h-3.7zM260.93,120.35h3.7v3.7h-3.7zM261.43,120.71h3.7v3.7h-3.7zM261.92,121.06h3.7v3.7h-3.7zM262.40,121.43h3.7v3.7h-3.7zM262.88,121.79h3.7v3.7h-3.7zM263.36,122.16h3.7v3.7h-3.7zM263.84,122.53h3.7v3.7h-3.7zM264.31,122.90h3.7v3.7h-3.7zM264.78,123.28h3.7v3.7h-3.7zM265.25,123.67h3.7v3.7h-3.7zM265.71,124.05h3.7v3.7h-3.7zM266.17,124.44h3.7v3.7h-3.7zM266.62,124.83h3.7v3.7h-3.7zM267.07,125.23h3.7v3.7h-3.7zM267.52,125.63h3.7v3.7h-3.7zM267.96,126.04h3.7v3.7h-3.7zM268.40,126.45h3.7v3.7h-3.7zM268.83,126.86h3.7v3.7h-3.7zM269.26,127.27h3.7v3.7h-3.7zM269.69,127.69h3.7v3.7h-3.7zM270.11,128.12h3.7v3.7h-3.7zM270.52,128.54h3.7v3.7h-3.7zM270.94,128.97h3.7v3.7h-3.7zM271.34,129.41h3.7v3.7h-3.7zM271.75,129.85h3.7v3.7h-3.7zM272.15,130.29h3.7v3.7h-3.7zM272.54,130.74h3.7v3.7h-3.7zM272.93,131.19h3.7v3.7h-3.7zM273.32,131.64h3.7v3.7h-3.7zM273.70,132.10h3.7v3.7h-3.7zM274.08,132.56h3.7v3.7h-3.7zM274.45,133.03h3.7v3.7h-3.7zM274.81,133.50h3.7v3.7h-3.7zM275.18,133.97h3.7v3.7h-3.7zM275.53,134.45h3.7v3.7h-3.7zM275.89,134.93h3.7v3.7h-3.7zM276.23,135.42h3.7v3.7h-3.7zM276.57,135.91h3.7v3.7h-3.7zM276.91,136.40h3.7v3.7h-3.7zM277.24,136.90h3.7v3.7h-3.7zM277.57,137.40h3.7v3.7h-3.7zM277.89,137.90h3.7v3.7h-3.7zM278.21,138.41h3.7v3.7h-3.7zM278.52,138.93h3.7v3.7h-3.7zM278.83,139.44h3.7v3.7h-3.7zM279.13,139.96h3.7v3.7h-3.7zM279.43,140.49h3.7v3.7h-3.7zM279.72,141.01h3.7v3.7h-3.7zM280.00,141.54h3.7v3.7h-3.7zM280.28,142.08h3.7v3.7h-3.7zM280.55,142.61h3.7v3.7h-3.7zM280.82,143.15h3.7v3.7h-3.7zM281.09,143.69h3.7v3.7h-3.7zM281.34,144.24h3.7v3.7h-3.7zM281.59,144.79h3.7v3.7h-3.7zM281.84,145.34h3.7v3.7h-3.7zM282.08,145.89h3.7v3.7h-3.7zM282.31,146.45h3.7v3.7h-3.7zM282.54,147.00h3.7v3.7h-3.7zM282.76,147.56h3.7v3.7h-3.7zM282.98,148.13h3.7v3.7h-3.7zM283.19,148.69h3.7v3.7h-3.7zM283.39,149.26h3.7v3.7h-3.7zM283.59,149.83h3.7v3.7h-3.7zM283.78,150.40h3.7v3.7h-3.7zM283.97,150.97h3.7v3.7h-3.7zM284.15,151.54h3.7v3.7h-3.7zM284.32,152.12h3.7v3.7h-3.7zM284.49,152.70h3.7v3.7h-3.7zM284.65,153.27h3.7v3.7h-3.7zM284.80,153.85h3.7v3.7h-3.7zM284.95,154.44h3.7v3.7h-3.7zM285.09,155.02h3.7v3.7h-3.7zM285.23,155.60h3.7v3.7h-3.7zM285.35,156.19h3.7v3.7h-3.7zM285.48,156.77h3.7v3.7h-3.7zM285.59,157.36h3.7v3.7h-3.7zM285.70,157.95h3.7v3.7h-3.7zM285.80,158.53h3.7v3.7h-3.7zM285.89,159.12h3.7v3.7h-3.7zM285.98,159.71h3.7v3.7h-3.7z" fill="#B400FF" stroke="#B400FF" stroke-width="1.15"/>
<path d="M287.95,224.70h3.7v3.7h-3.7zM288.75,224.70h3.7v3.7h-3.7zM289.55,224.70h3.7v3.7h-3.7zM290.35,224.70h3.7v3.7h-3.7zM291.15,224.70h3.7v3.7h-3.7zM291.95,224.70h3.7v3.7h-3.7zM292.75,224.70h3.7v3.7h-3.7zM293.55,224.70h3.7v3.7h-3.7zM294.35,224.70h3.7v3.7h-3.7zM295.15,224.70h3.7v3.7h-3.7zM295.95,224.70h3.7v3.7h-3.7zM296.75,224.70h3.7v3.7h-3.7zM297.55,224.70h3.7v3.7h-3.7zM298.35,224.70h3.7v3.7h-3.7zM299.15,224.70h3.7v3.7h-3.7zM299.95,224.70h3.7v3.7h-3.7zM300.75,224.70h3.7v3.7h-3.7zM301.55,224.70h3.7v3.7h-3.7zM302.35,224.70h3.7v3.7h-3.7zM303.15,224.70h3.7v3.7h-3.7zM303.95,224.70h3.7v3.7h-3.7zM304.75,224.70h3.7v3.7h-3.7zM305.55,224.70h3.7v3.7h-3.7zM306.35,224.70h3.7v3.7h-3.7zM307.15,224.70h3.7v3.7h-3.7zM307.95,224.70h3.7v3.7h-3.7zM308.75,224.70h3.7v3.7h-3.7zM309.55,224.70h3.7v3.7h-3.7zM310.35,224.70h3.7v3.7h-3.7zM311.15,224.70h3.7v3.7h-3.7zM311.95,224.70h3.7v3.7h-3.7zM312.75,224.70h3.7v3.7h-3.7zM313.55,224.70h3.7v3.7h-3.7zM314.35,224.70h3.7v3.7h-3.7zM315.15,224.70h3.7v3.7h-3.7zM315.95,224.70h3.7v3.7h-3.7zM316.75,224.70h3.7v3.7h-3.7zM317.55,224.70h3.7v3.7h-3.7zM318.35,224.70h3.7v3.7h-3.7zM319.15,224.70h3.7v3.7h-3.7zM319.95,224.70h3.7v3.7h-3.7zM320.75,224.70h3.7v3.7h-3.7zM321.55,224.70h3.7v3.7h-3.7zM322.35,224.70h3.7v3.7h-3.7zM323.15,224.70h3.7v3.7h-3.7zM323.95,224.70h3.7v3.7h-3.7zM324.75,224.70h3.7v3.7h-3.7zM325.55,224.70h3.7v3.7h-3.7zM326.35,224.70h3.7v3.7h-3.7zM327.15,224.70h3.7v3.7h-3.7zM327.95,224.70h3.7v3.7h-3.7zM328.75,224.70h3.7v3.7h-3.7zM329.55,224.70h3.7v3.7h-3.7zM330.35,224.70h3.7v3.7h-3.7zM331.15,224.70h3.7v3.7h-3.7zM331.95,224.70h3.7v3.7h-3.7zM332.75,224.70h3.7v3.7h-3.7zM333.55,224.70h3.7v3.7h-3.7zM334.35,224.70h3.7v3.7h-3.7zM335.15,224.70h3.7v3.7h-3.7zM335.95,224.70h3.7v3.7h-3.7zM336.75,224.70h3.7v3.7h-3.7zM337.55,224.70h3.7v3.7h-3.7zM338.35,224.70h3.7v3.7h-3.7zM339.15,224.70h3.7v3.7h-3.7zM339.95,224.70h3.7v3.7h-3.7zM340.75,224.70h3.7v3.7h-3.7zM341.55,224.70h3.7v3.7h-3.7zM342.35,224.70h3.7v3.7h-3.7zM343.15,224.70h3.7v3.7h-3.7zM343.95,224.70h3.7v3.7h-3.7zM344.75,224.70h3.7v3.7h-3.7zM345.55,224.70h3.7v3.7h-3.7zM346.35,224.70h3.7v3.7h-3.7zM347.15,224.70h3.7v3.7h-3.7zM347.95,224.70h3.7v3.7h-3.7zM348.75,224.70h3.7v3.7h-3.7zM349.55,224.70h3.7v3.7h-3.7zM350.35,224.70h3.7v3.7h-3.7zM351.15,224.70h3.7v3.7h-3.7zM351.95,224.70h3.7v3.7h-3.7zM352.75,224.70h3.7v3.7h-3.7zM353.55,224.70h3.7v3.7h-3.7zM354.35,224.70h3.7v3.7h-3.7zM355.15,224.70h3.7v3.7h-3.7zM355.95,224.70h3.7v3.7h-3.7zM356.75,224.70h3.7v3.7h-3.7zM357.55,224.70h3.7v3.7h-3.7zM358.35,224.70h3.7v3.7h-3.7zM359.15,224.70h3.7v3.7h-3.7zM359.95,224.70h3.7v3.7h-3.7zM360.75,224.70h3.7v3.7h-3.7zM361.55,224.70h3.7v3.7h-3.7zM362.35,224.70h3.7v3.7h-3.7zM363.15,224.70h3.7v3.7h-3.7zM363.95,224.70h3.7v3.7h-3.7zM364.75,224.70h3.7v3.7h-3.7zM365.55,224.70h3.7v3.7h-3.7zM366.35,224.70h3.7v3.7h-3.7zM367.15,224.70h3.7v3.7h-3.7zM367.95,224.70h3.7v3.7h-3.7zM368.75,224.70h3.7v3.7h-3.7zM369.55,224.70h3.7v3.7h-3.7zM370.35,224.70h3.7v3.7h-3.7zM371.15,224.70h3.7v3.7h-3.7zM371.95,224.70h3.7v3.7h-3.7zM372.75,224.70h3.7v3.7h-3.7zM373.55,224.70h3.7v3.7h-3.7zM374.35,224.70h3.7v3.7h-3.7zM375.15,224.70h3.7v3.7h-3.7z" fill="#B400FF" stroke="#B400FF" stroke-width="1.15"/>
<path d="M285.97,163.05h3.7v3.7h-3.7zM286.03,166.75h3.7v3.7h-3.7zM286.11,170.95h3.7v3.7h-3.7zM286.20,173.75h3.7v3.7h-3.7zM286.41,179.15h3.7v3.7h-3.7zM286.86,190.65h3.7v3.7h-3.7zM287.35,204.25h3.7v3.7h-3.7zM287.68,216.45h3.7v3.7h-3.7zM287.79,221.75h3.7v3.7h-3.7z" fill="#B400FF" fill-opacity="0.25" stroke="#B400FF" stroke-width="1.15"/>
<line x1="54.10" y1="226.55" x2="377.50" y2="134.01" stroke="#000" stroke-width="1.12" stroke-dasharray="1.7 1.45"/>
<path d="M288,226.55 H54.1 V8.5 H377.5 V227.05" fill="none" stroke="#000" stroke-width="1.05"/>
<path d="M288,226.35000000000002 H377.5" fill="none" stroke="#3C0064" stroke-width="0.8"/>
<path d="M119.08,226.55v-2.6M119.08,8.5v2.6M183.76,226.55v-2.6M183.76,8.5v2.6M248.44,226.55v-2.6M248.44,8.5v2.6M313.12,8.5v2.6M54.1,153.87h2.6M377.5,153.87h-2.6M377.5,81.18h-2.6" fill="none" stroke="#000" stroke-width="0.55"/>
<line x1="73.8" y1="18.95" x2="111.2" y2="18.95" stroke="#000080" stroke-width="0.85"/>
<path d="M90.40,18.95h4.0M92.40,16.95v4.0" stroke="#000080" stroke-width="1.0" fill="none"/>
<line x1="73.8" y1="35.5" x2="111.2" y2="35.5" stroke="#E69F00" stroke-width="0.9" stroke-dasharray="1.6 0.6"/>
<path d="M90.50,33.60l3.8,3.8M90.50,37.40l3.8,-3.8" stroke="#E69F00" stroke-width="1.0" fill="none"/>
<line x1="73.8" y1="52.05" x2="111.2" y2="52.05" stroke="#1E8C1E" stroke-width="1.1" stroke-dasharray="1.6 0.6"/>
<path d="M90.60,52.05h3.6M92.40,50.25v3.6M90.60,50.25l3.6,3.6M90.60,53.85l3.6,-3.6" stroke="#1E8C1E" stroke-width="0.9" fill="none"/>
<line x1="73.8" y1="68.8" x2="111.2" y2="68.8" stroke="#B400FF" stroke-width="0.9" stroke-dasharray="2.6 0.4"/>
<path d="M90.65,66.85h3.5v3.5h-3.5z" stroke="#B400FF" stroke-width="1.15" fill="#B400FF" fill-opacity="0.12"/>
<text transform="translate(120.59,22.40) scale(1.036,1.000)" class="mi" font-size="15.0" stroke="#fff" stroke-width="0.02">L</text>
<path d="M130.2,25.90 L135.6,11.70" stroke="#000" stroke-width="0.75" fill="none"/>
<text transform="translate(136.83,22.40) scale(0.956,1.000)" class="mi" font-size="14.6" stroke="#fff" stroke-width="0.00">ξ</text>
<path d="M148.0,17.20 h10.1 M148.0,20.50 h10.1" stroke="#000" stroke-width="0.7" fill="none"/>
<text x="162.6" y="22.4" class="mr" font-size="13.6">5</text>
<text transform="translate(120.59,39.20) scale(1.036,1.000)" class="mi" font-size="15.0" stroke="#fff" stroke-width="0.02">L</text>
<path d="M130.2,42.70 L135.6,28.50" stroke="#000" stroke-width="0.75" fill="none"/>
<text transform="translate(136.83,39.20) scale(0.956,1.000)" class="mi" font-size="14.6" stroke="#fff" stroke-width="0.00">ξ</text>
<path d="M148.0,34.00 h10.1 M148.0,37.30 h10.1" stroke="#000" stroke-width="0.7" fill="none"/>
<text x="162.6" y="39.2" class="mr" font-size="13.6">10</text>
<text transform="translate(120.59,55.90) scale(1.036,1.000)" class="mi" font-size="15.0" stroke="#fff" stroke-width="0.02">L</text>
<path d="M130.2,59.40 L135.6,45.20" stroke="#000" stroke-width="0.75" fill="none"/>
<text transform="translate(136.83,55.90) scale(0.956,1.000)" class="mi" font-size="14.6" stroke="#fff" stroke-width="0.00">ξ</text>
<path d="M148.0,50.70 h10.1 M148.0,54.00 h10.1" stroke="#000" stroke-width="0.7" fill="none"/>
<text x="162.6" y="55.9" class="mr" font-size="13.6">200</text>
<text transform="translate(120.59,72.60) scale(1.036,1.000)" class="mi" font-size="15.0" stroke="#fff" stroke-width="0.02">L</text>
<path d="M130.2,76.10 L135.6,61.90" stroke="#000" stroke-width="0.75" fill="none"/>
<text transform="translate(136.83,72.60) scale(0.956,1.000)" class="mi" font-size="14.6" stroke="#fff" stroke-width="0.00">ξ</text>
<path d="M148.0,67.40 h10.1 M148.0,70.70 h10.1" stroke="#000" stroke-width="0.7" fill="none"/>
<text x="162.6" y="72.6" class="mr" font-size="13.6">2000</text>
<text transform="translate(54.60,244.8) scale(1,1.06)" class="mr" font-size="18.7" text-anchor="middle">0</text>
<text transform="translate(119.28,244.8) scale(1,1.06)" class="mr" font-size="18.7" text-anchor="middle">0.2</text>
<text transform="translate(183.96,244.8) scale(1,1.06)" class="mr" font-size="18.7" text-anchor="middle">0.4</text>
<text transform="translate(248.64,244.8) scale(1,1.06)" class="mr" font-size="18.7" text-anchor="middle">0.6</text>
<text transform="translate(313.32,244.8) scale(1,1.06)" class="mr" font-size="18.7" text-anchor="middle">0.8</text>
<text transform="translate(379.50,244.8) scale(1,1.06)" class="mr" font-size="18.7" text-anchor="middle">1</text>
<text transform="translate(52.0,231.65) scale(1,1.06)" class="mr" font-size="18.7" text-anchor="end">0</text>
<text transform="translate(52.0,158.97) scale(1,1.06)" class="mr" font-size="18.7" text-anchor="end">0.5</text>
<text transform="translate(52.9,86.28) scale(1,1.06)" class="mr" font-size="18.7" text-anchor="end">1</text>
<text transform="translate(52.0,13.60) scale(1,1.06)" class="mr" font-size="18.7" text-anchor="end">1.5</text>
<text transform="translate(166.75,268.20) scale(0.988,1.000)" class="mi" font-size="15.8" stroke="#fff" stroke-width="0.00">k</text>
<text transform="translate(173.87,270.70) scale(1.358,1.000)" class="mr" font-size="11.0" stroke="#fff" stroke-width="0.12">B</text>
<text transform="translate(183.32,268.20) scale(1.346,1.000)" class="mi" font-size="15.8" stroke="#fff" stroke-width="0.16">T</text>
<path d="M197.6,272.20 L202.9,256.30" stroke="#000" stroke-width="0.8" fill="none"/>
<text transform="translate(205.28,268.40) scale(0.950,1.000)" class="mr" font-size="17.2" stroke="#fff" stroke-width="0.00">(</text>
<text transform="translate(210.61,268.20) scale(1.395,1.040)" class="mi" font-size="15.8" stroke="#fff" stroke-width="0.19">n</text>
<text transform="translate(221.15,268.20) scale(1.320,1.000)" class="mi" font-size="15.8" stroke="#fff" stroke-width="0.15">ħ</text>
<text transform="translate(231.28,261.80) scale(1.010,1.000)" class="mr" font-size="11.6" stroke="#fff" stroke-width="0.00">2</text>
<path d="M238.7,272.20 L244.4,256.30" stroke="#000" stroke-width="0.8" fill="none"/>
<text transform="translate(245.54,268.20) scale(1.337,1.040)" class="mi" font-size="15.8" stroke="#fff" stroke-width="0.16">m</text>
<text transform="translate(260.78,268.40) scale(0.950,1.000)" class="mr" font-size="17.2" stroke="#fff" stroke-width="0.00">)</text>
<g transform="translate(13.8,136.0) rotate(-90)">
<text transform="translate(-0.59,0.00) scale(1.395,1.060)" class="mi" font-size="15.8" stroke="#fff" stroke-width="0.19">n</text>
<text transform="translate(10.59,3.60) scale(1.713,1.000)" class="mr" font-size="11.6" stroke="#fff" stroke-width="0.25">s</text>
<path d="M19.4,4.2 L25.2,-12.0" stroke="#000" stroke-width="0.8" fill="none"/>
<text transform="translate(26.19,0.00) scale(1.425,1.060)" class="mi" font-size="15.8" stroke="#fff" stroke-width="0.20">n</text>
</g>
</svg>
</body></html>
